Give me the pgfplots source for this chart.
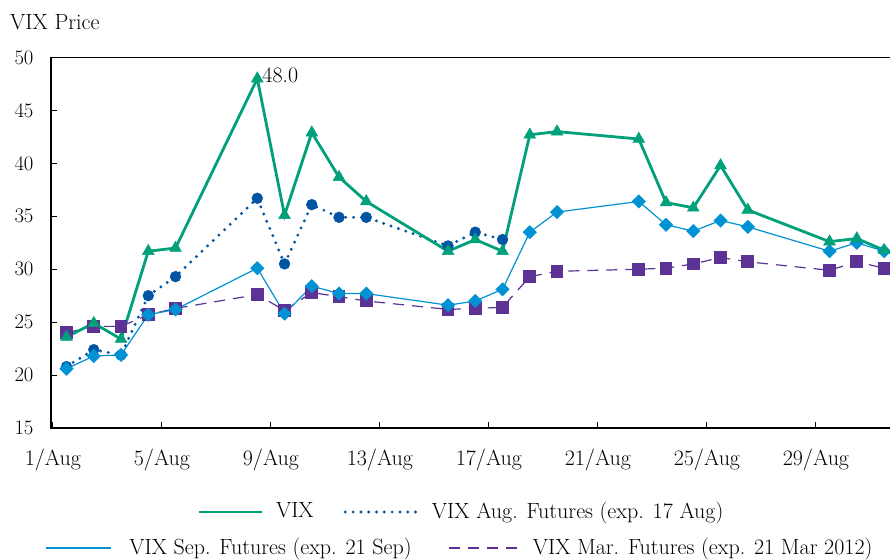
\documentclass[border=0pt]{standalone}
\usepackage{pgfplots}
\pgfplotsset{compat=1.18}
\definecolor{vixgreen}{RGB}{0,160,122}
\definecolor{augblue}{RGB}{0,84,164}
\definecolor{sepblue}{RGB}{0,146,210}
\definecolor{marpurple}{RGB}{92,50,148}
\tikzset{
  vixline/.style={color=vixgreen, line width=2.8bp},
  augline/.style={color=augblue, line width=3.2bp, line cap=round, dash pattern=on 0pt off 7.8bp},
  sepline/.style={color=sepblue, line width=1.2bp},
  marline/.style={color=marpurple, line width=1.2bp, dash pattern=on 11bp off 8bp},
}
\begin{document}
\fontsize{22bp}{26bp}\selectfont
\begin{tikzpicture}
\begin{axis}[
  name=main,
  at={(0,0)}, anchor=south west,
  scale only axis,
  width=847.5bp, height=370.5bp,
  xmin=0.43, xmax=31.53,
  ymin=15, ymax=50,
  ytick={15,20,...,50},
  xtick={0.5,4.5,8.5,12.5,16.5,20.5,24.5,28.5},
  xticklabels={1/Aug,5/Aug,9/Aug,13/Aug,17/Aug,21/Aug,25/Aug,29/Aug},
  xticklabel style={yshift=-13bp},
  yticklabel style={xshift=-10bp},
  tick pos=left,
  tick align=inside,
  major tick length=6bp,
  tick style={black, line width=1bp},
  axis line style={black, line width=1.2bp},
  clip=false,
  legend style={draw=none, fill=none, at={(0.1723,-0.2267)}, anchor=west,
    legend columns=2, inner sep=0pt,
    nodes={inner xsep=0pt},
    /tikz/every odd column/.append style={column sep=13bp},
    /tikz/every even column/.append style={column sep=30bp}},
]
\addlegendimage{vixline, legend image code/.code={\draw[vixline] (0bp,0bp) -- (63bp,0bp);}}
\addlegendentry{VIX}
\addlegendimage{augline, legend image code/.code={\draw[augline] (2bp,0bp) -- (74bp,0bp);}}
\addlegendentry{VIX Aug. Futures (exp. 17 Aug)}

\addplot[marline, mark=square*, mark size=5.8bp, mark options={solid, fill=marpurple, draw=marpurple}, forget plot] coordinates {
(1,24.0)(2,24.6)(3,24.6)(4,25.7)(5,26.3)(8,27.6)(9,26.1)(10,27.8)(11,27.4)(12,27.0)(15,26.2)(16,26.3)(17,26.4)(18,29.3)(19,29.8)(22,30.0)(23,30.1)(24,30.5)(25,31.1)(26,30.7)(29,29.9)(30,30.7)(31,30.1)
};
\addplot[augline, mark=*, mark size=5.4bp, mark options={solid, fill=augblue, draw=augblue, line width=0.5bp}, forget plot] coordinates {
(1,20.8)(2,22.4)(3,21.9)(4,27.5)(5,29.3)(8,36.7)(9,30.5)(10,36.1)(11,34.9)(12,34.9)(15,32.2)(16,33.5)(17,32.8)
};
\addplot[sepline, mark=square*, mark size=4.4bp, mark options={solid, rotate=45, fill=sepblue, draw=sepblue}, forget plot] coordinates {
(1,20.6)(2,21.8)(3,21.9)(4,25.7)(5,26.2)(8,30.1)(9,25.8)(10,28.4)(11,27.7)(12,27.7)(15,26.6)(16,27.0)(17,28.1)(18,33.5)(19,35.4)(22,36.4)(23,34.2)(24,33.6)(25,34.6)(26,34.0)(29,31.7)(30,32.5)(31,31.7)
};
\addplot[vixline, mark=triangle*, mark size=6.8bp, mark options={solid, fill=vixgreen, draw=vixgreen, line width=0.5bp}, forget plot] coordinates {
(1,23.6)(2,24.9)(3,23.4)(4,31.7)(5,32.0)(8,48.0)(9,35.1)(10,42.9)(11,38.7)(12,36.4)(15,31.7)(16,32.8)(17,31.7)(18,42.7)(19,43.0)(22,42.3)(23,36.3)(24,35.8)(25,39.8)(26,35.6)(29,32.6)(30,32.9)(31,31.8)
};
\node[anchor=west, inner sep=0pt, xshift=5bp, yshift=3bp] at (axis cs:8,48) {48.0};
\node[anchor=west, inner sep=0pt, xshift=-41bp, yshift=35.5bp] at (rel axis cs:0,1) {VIX Price};
\end{axis}
\begin{axis}[
  at={(0,0)}, anchor=south west,
  scale only axis,
  width=847.5bp, height=370.5bp,
  xmin=0.43, xmax=31.53, ymin=15, ymax=50,
  hide axis,
  legend style={draw=none, fill=none, at={(-0.0071,-0.3239)}, anchor=west,
    legend columns=2, inner sep=0pt,
    nodes={inner xsep=0pt},
    /tikz/every odd column/.append style={column sep=10bp},
    /tikz/every even column/.append style={column sep=37bp}},
]
\addlegendimage{sepline, legend image code/.code={\draw[sepline] (0bp,0bp) -- (65bp,0bp); \path (73bp,0bp);}}
\addlegendentry{VIX Sep. Futures (exp. 21 Sep)}
\addlegendimage{marline, legend image code/.code={\draw[marline] (0bp,0bp) -- (73bp,0bp);}}
\addlegendentry{VIX Mar. Futures (exp. 21 Mar 2012)}
\end{axis}
\pgfresetboundingbox
\useasboundingbox (-51bp,-132bp) rectangle (839bp,428bp);
\end{tikzpicture}
\end{document}
